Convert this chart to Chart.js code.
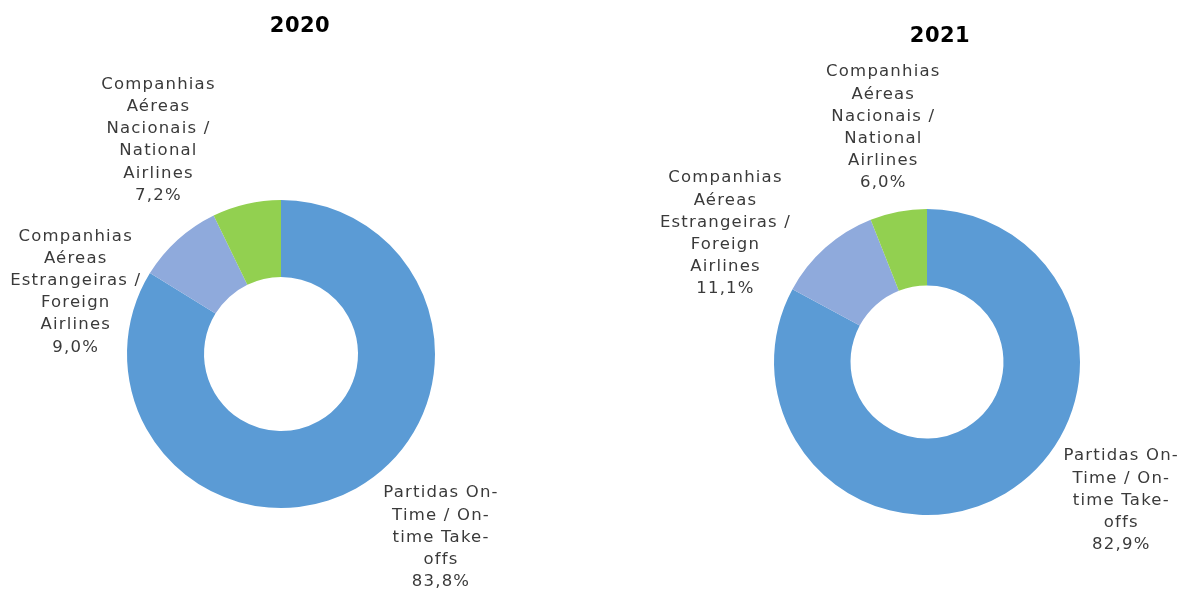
<!DOCTYPE html>
<html lang="pt">
<head>
    <meta charset="UTF-8">
    <title>Partidas On-Time 2020 / 2021</title>
    <script src="https://cdn.jsdelivr.net/npm/chart.js"></script>
    <style>
        body { margin: 0; background: #fff; }
        .painel { position: absolute; top: 0; height: 592px; }
        #p2020 { left: 0; width: 596px; }
        #p2021 { left: 596px; width: 597px; }
    </style>
</head>
<body>
    <div class="painel" id="p2020"><canvas id="g2020"></canvas></div>
    <div class="painel" id="p2021"><canvas id="g2021"></canvas></div>

    <script>
        // categorias (texto do rótulo, já quebrado em linhas)
        const categorias = [
            ["Partidas On-", "Time / On-", "time Take-", "offs"],
            ["Companhias", "Aéreas", "Estrangeiras /", "Foreign", "Airlines"],
            ["Companhias", "Aéreas", "Nacionais /", "National", "Airlines"]
        ];
        const valores2020 = [83.8, 9.0, 7.2];
        const valores2021 = [82.9, 11.1, 6.0];
        const cores = ['#5B9BD5', '#8FAADC', '#92D050'];

        // rótulos desenhados fora do anel, ancorados no ponto médio de cada fatia
        const rotulosPlugin = {
            id: 'rotulos',
            afterDraw(chart, args, opts) {
                const ctx = chart.ctx;
                const meta = chart.getDatasetMeta(0);
                const valores = chart.data.datasets[0].data;
                ctx.save();
                ctx.font = '16.5px "DejaVu Sans"';
                ctx.letterSpacing = '1.2px';
                ctx.fillStyle = '#3a3a3a';
                ctx.textAlign = 'center';
                ctx.textBaseline = 'middle';
                meta.data.forEach((arc, i) => {
                    const p = arc.getProps(['x', 'y', 'startAngle', 'endAngle', 'outerRadius'], true);
                    const meio = (p.startAngle + p.endAngle) / 2;
                    const ax = p.x + Math.cos(meio) * p.outerRadius;
                    const ay = p.y + Math.sin(meio) * p.outerRadius;
                    const off = opts.deslocamentos[i];
                    const linhas = categorias[i].concat([valores[i].toFixed(1).replace('.', ',') + '%']);
                    const lh = 22.2;
                    const cx = ax + off[0] + 1;
                    const cy = ay + off[1] - (linhas.length - 1) * lh / 2;
                    linhas.forEach((t, k) => ctx.fillText(t, cx, cy + k * lh));
                });
                // título
                ctx.font = 'bold 21px "DejaVu Sans"';
                ctx.letterSpacing = '0.5px';
                ctx.fillStyle = '#000';
                ctx.fillText(opts.titulo, opts.tituloX, opts.tituloY);
                ctx.restore();
            }
        };

        function criarGrafico(id, valores, padding, rotulos) {
            return new Chart(document.getElementById(id), {
                type: 'doughnut',
                data: {
                    labels: categorias.map(c => c.join(' ')),
                    datasets: [{
                        data: valores,
                        backgroundColor: cores,
                        borderWidth: 0
                    }]
                },
                options: {
                    responsive: true,
                    maintainAspectRatio: false,
                    animation: false,
                    cutout: '50%',
                    layout: { padding: padding },
                    plugins: {
                        legend: { display: false },
                        tooltip: { enabled: false },
                        rotulos: rotulos
                    }
                },
                plugins: [rotulosPlugin]
            });
        }

        criarGrafico('g2020', valores2020,
            { left: 127, right: 161, top: 200, bottom: 84 },
            { titulo: '2020', tituloX: 300, tituloY: 27, deslocamentos: [[84, 49], [-103, 52], [-89, -64]] });

        criarGrafico('g2021', valores2021,
            { left: 178, right: 113, top: 209, bottom: 77 },
            { titulo: '2021', tituloX: 344, tituloY: 37, deslocamentos: [[115, 7], [-101, -14], [-16, -84]] });
    </script>
</body>
</html>
